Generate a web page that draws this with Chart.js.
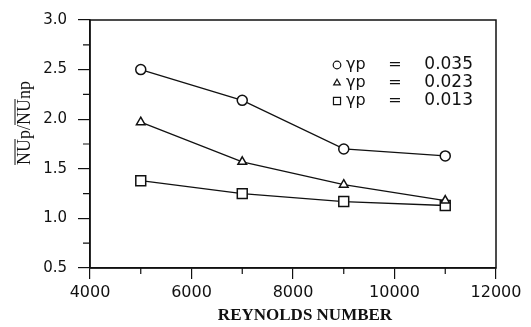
<!DOCTYPE html>
<html>
<head>
<meta charset="utf-8">
<script src="https://cdn.jsdelivr.net/npm/chart.js@4/dist/chart.umd.min.js"></script>
<style>
  html, body { margin: 0; padding: 0; background: #fff; }
  #wrap { width: 531px; height: 327px; }
</style>
</head>
<body>
<div id="wrap"><canvas id="chart"></canvas></div>
<script>
// Reynolds number vs. NUp/NUnp for three roughness ratios
const reynolds = [5000, 7000, 9000, 11000];
const nuRatio035 = [2.50, 2.19, 1.70, 1.63];
const nuRatio023 = [1.97, 1.57, 1.34, 1.18];
const nuRatio013 = [1.38, 1.25, 1.17, 1.13];
const gammaValues = ["0.035", "0.023", "0.013"];
const markers = ["circle", "triangle", "rect"];
const xTitle = "REYNOLDS NUMBER";
const yTitle = "NUp/NUnp";

const INK = "#111";
const series = [nuRatio035, nuRatio023, nuRatio013];

const datasets = series.map((vals, i) => ({
  label: "γp = " + gammaValues[i],
  data: reynolds.map((r, k) => ({ x: r, y: vals[k] })),
  borderColor: INK,
  borderWidth: 1.3,
  backgroundColor: "#fff",
  pointStyle: markers[i],
  pointRadius: markers[i] === "rect" ? 7 : 5,
  pointBorderWidth: 1.5,
  pointBorderColor: INK,
  pointBackgroundColor: "#fff",
  tension: 0
}));

// box, minor ticks, titles, legend
const decor = {
  id: "decor",
  afterDraw(chart) {
    const { ctx, chartArea: a, scales } = chart;
    const xs = scales.x, ys = scales.y;
    ctx.save();
    ctx.strokeStyle = INK;
    ctx.lineWidth = 1.5;
    ctx.strokeRect(a.left, a.top, a.right - a.left, a.bottom - a.top);

    ctx.lineWidth = 1.2;
    ctx.beginPath();
    for (let v = ys.min + 0.25; v < ys.max; v += 0.5) {
      const py = ys.getPixelForValue(v);
      ctx.moveTo(a.left - 7, py); ctx.lineTo(a.left, py);
    }
    for (let v = xs.min + 1000; v < xs.max; v += 2000) {
      const px = xs.getPixelForValue(v);
      ctx.moveTo(px, a.bottom); ctx.lineTo(px, a.bottom + 6);
    }
    ctx.stroke();

    // x title
    ctx.fillStyle = INK;
    ctx.font = "bold 17px 'Liberation Serif', serif";
    ctx.textAlign = "center";
    ctx.textBaseline = "alphabetic";
    ctx.fillText(xTitle, 305, 320);

    // y title, with bars over "NU"
    ctx.save();
    ctx.translate(30, 123);
    ctx.rotate(-Math.PI / 2);
    ctx.font = "18px 'Liberation Serif', serif";
    ctx.textAlign = "left";
    const w = ctx.measureText(yTitle).width;
    const x0 = -w / 2;
    ctx.fillText(yTitle, x0, 0);
    const nuW = ctx.measureText("NU").width;
    const second = ctx.measureText("NUp/").width;
    ctx.lineWidth = 1;
    ctx.beginPath();
    ctx.moveTo(x0, -15); ctx.lineTo(x0 + nuW, -15);
    ctx.moveTo(x0 + second, -15); ctx.lineTo(x0 + second + nuW, -15);
    ctx.stroke();
    ctx.restore();

    // legend
    ctx.textBaseline = "middle";
    const rows = [65, 83, 101];
    chart.data.datasets.forEach((ds, i) => {
      const y = rows[i];
      ctx.fillStyle = "#fff";
      ctx.strokeStyle = INK;
      Chart.helpers.drawPoint(ctx, {
        pointStyle: ds.pointStyle,
        radius: ds.pointStyle === "rect" ? 5 : 3.8,
        borderWidth: 1.1
      }, 337, y);
      ctx.fillStyle = INK;
      ctx.font = "16px 'DejaVu Sans', sans-serif";
      ctx.textAlign = "left";
      ctx.fillText("γp", 346, y);
      ctx.textAlign = "center";
      ctx.fillText("=", 395, y);
      ctx.font = "17px 'DejaVu Sans', sans-serif";
      ctx.textAlign = "right";
      ctx.fillText(gammaValues[i], 473, y);
    });
    ctx.restore();
  }
};

new Chart(document.getElementById("chart"), {
  type: "line",
  data: { datasets },
  options: {
    responsive: true,
    maintainAspectRatio: false,
    animation: false,
    layout: { padding: { top: 15, right: 35, left: 0, bottom: 0 } },
    plugins: { legend: { display: false }, tooltip: { enabled: false } },
    scales: {
      x: {
        type: "linear",
        min: 4000, max: 12000,
        afterFit: (s) => { s.height = 59; },
        grid: { drawOnChartArea: false, color: INK, tickLength: 11, lineWidth: 1.2 },
        border: { color: INK, width: 1.5 },
        ticks: {
          stepSize: 2000,
          color: INK,
          padding: 4,
          maxRotation: 0,
          callback: (v) => String(v),
          font: { family: "'DejaVu Sans', sans-serif", size: 16 }
        }
      },
      y: {
        min: 0.5, max: 3.0,
        afterFit: (s) => { s.width = 90; },
        grid: { drawOnChartArea: false, color: INK, tickLength: 12, lineWidth: 1.2 },
        border: { color: INK, width: 1.5 },
        ticks: {
          stepSize: 0.5,
          color: INK,
          padding: 11,
          callback: (v) => v.toFixed(1),
          font: { family: "'DejaVu Sans', sans-serif", size: 15 }
        }
      }
    }
  },
  plugins: [decor]
});
</script>
</body>
</html>
